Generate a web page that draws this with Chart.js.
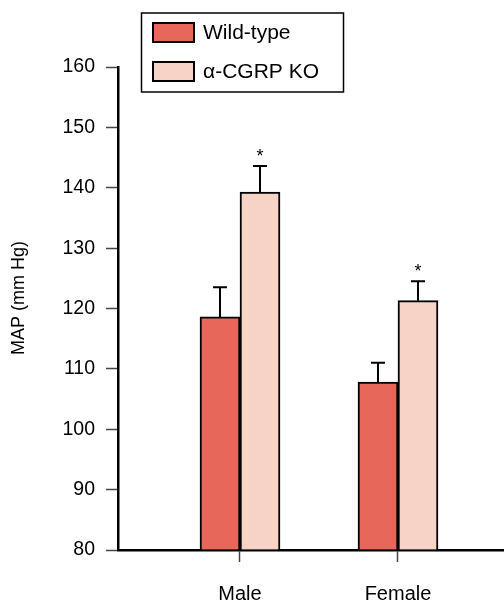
<!DOCTYPE html>
<html>
<head>
<meta charset="utf-8">
<script src="https://cdn.jsdelivr.net/npm/chart.js@4"></script>
<style>
html,body{margin:0;padding:0;background:#fff;}
canvas{display:block;}
</style>
</head>
<body>
<canvas id="c" width="504" height="604"></canvas>
<script>
const categories = ['Male', 'Female'];
const seriesNames = ['Wild-type', '\u03B1-CGRP KO'];
const wildType = [118.6, 107.8];
const wildTypeErr = [4.9, 3.2];
const cgrpKO = [139.3, 121.3];
const cgrpKOErr = [4.3, 3.2];
const koSignificant = [true, true];
const yTicks = [80, 90, 100, 110, 120, 130, 140, 150, 160];

const FONT = '"Liberation Sans", Arial, Helvetica, sans-serif';
const WT_COLOR = '#E7675A';
const KO_COLOR = '#F7D3C7';

const toPoints = arr => arr.map((v, i) => ({x: i + 1, y: v}));

const errorPlugin = {
  id: 'errorBars',
  afterDatasetsDraw(chart) {
    const ctx = chart.ctx;
    const ys = chart.scales.y;
    chart.data.datasets.forEach((ds, di) => {
      const meta = chart.getDatasetMeta(di);
      meta.data.forEach((el, i) => {
        const v = ds.data[i].y;
        const top = ys.getPixelForValue(v + ds.errors[i]);
        ctx.save();
        ctx.strokeStyle = '#000';
        ctx.lineWidth = 2;
        ctx.beginPath();
        ctx.moveTo(el.x, el.y);
        ctx.lineTo(el.x, top);
        ctx.moveTo(el.x - 7, top);
        ctx.lineTo(el.x + 7, top);
        ctx.stroke();
        if (ds.signif && ds.signif[i]) {
          ctx.fillStyle = '#000';
          ctx.font = '18px ' + FONT;
          ctx.textAlign = 'center';
          ctx.textBaseline = 'alphabetic';
          ctx.fillText('*', el.x, top - 4);
        }
        ctx.restore();
      });
    });
  }
};

const legendPlugin = {
  id: 'boxLegend',
  afterDraw(chart) {
    const ctx = chart.ctx;
    ctx.save();
    ctx.strokeStyle = '#000';
    ctx.lineWidth = 1.5;
    ctx.strokeRect(141.5, 13, 202, 79);
    chart.data.datasets.forEach((ds, i) => {
      const y = 23 + i * 39;
      ctx.fillStyle = ds.backgroundColor;
      ctx.fillRect(153, y, 41, 19);
      ctx.lineWidth = 2;
      ctx.strokeRect(153, y, 41, 19);
      ctx.fillStyle = '#000';
      ctx.font = '21px ' + FONT;
      ctx.textAlign = 'left';
      ctx.textBaseline = 'middle';
      ctx.fillText(ds.label, 203, y + 10);
    });
    ctx.save();
    ctx.translate(19, 298);
    ctx.rotate(-Math.PI / 2);
    ctx.font = '18px ' + FONT;
    ctx.textAlign = 'center';
    ctx.textBaseline = 'middle';
    ctx.fillText('MAP (mm Hg)', 0, 0);
    ctx.restore();
    ctx.restore();
  }
};

new Chart(document.getElementById('c'), {
  type: 'bar',
  data: {
    datasets: [
      {label: seriesNames[0], data: toPoints(wildType), errors: wildTypeErr,
       backgroundColor: WT_COLOR, borderColor: '#000', borderWidth: 2, base: 80, barThickness: 40},
      {label: seriesNames[1], data: toPoints(cgrpKO), errors: cgrpKOErr, signif: koSignificant,
       backgroundColor: KO_COLOR, borderColor: '#000', borderWidth: 2, base: 80, barThickness: 40}
    ]
  },
  options: {
    responsive: false,
    animation: false,
    devicePixelRatio: 1,
    layout: {padding: {top: 67, right: 0, left: 0, bottom: 0}},
    plugins: {legend: {display: false}, tooltip: {enabled: false}},
    scales: {
      x: {
        type: 'linear',
        offset: false,
        min: 0.2278,
        max: 2.671,
        afterBuildTicks: s => { s.ticks = categories.map((c, i) => ({value: i + 1})); },
        afterFit: s => { s.height = 54; },
        ticks: {
          autoSkip: false,
          maxRotation: 0,
          padding: 20,
          color: '#000',
          font: {family: FONT, size: 20},
          callback: v => categories[Math.round(v) - 1] || ''
        },
        grid: {offset: false, drawOnChartArea: false, drawTicks: true, tickLength: 12, tickColor: '#444', tickWidth: 1.5},
        border: {color: '#000', width: 2.5}
      },
      y: {
        min: 80,
        max: 160,
        afterBuildTicks: s => { s.ticks = yTicks.map(v => ({value: v})); },
        afterFit: s => { s.width = 118; },
        ticks: {
          padding: 11,
          color: '#000',
          font: {family: FONT, size: 19.5}
        },
        grid: {drawOnChartArea: false, drawTicks: true, tickLength: 12, tickColor: '#444', tickWidth: 1.5},
        border: {color: '#000', width: 2.5}
      }
    }
  },
  plugins: [errorPlugin, legendPlugin]
});
</script>
</body>
</html>
